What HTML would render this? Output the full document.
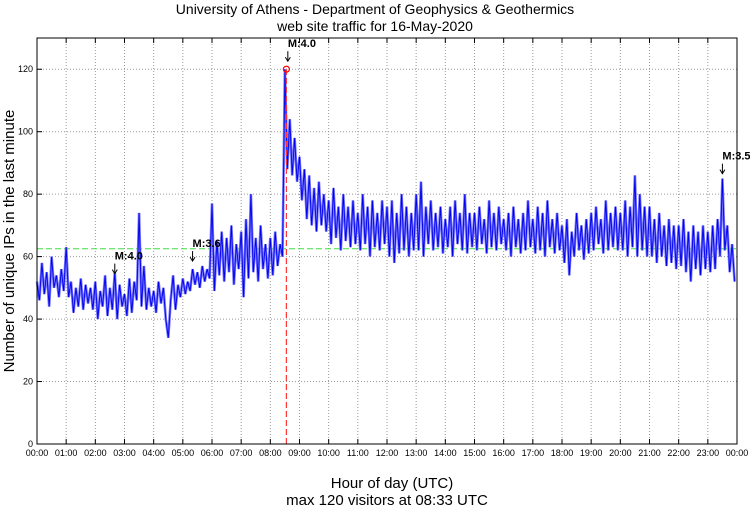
<!DOCTYPE html>
<html><head><meta charset="utf-8"><style>
body{margin:0;background:#fff;}
svg{display:block;font-family:"Liberation Sans",sans-serif;}
</style></head><body>
<svg id="chart" width="750" height="509"></svg>
<script>
const hourLabels=["00:00","01:00","02:00","03:00","04:00","05:00","06:00","07:00","08:00","09:00","10:00","11:00","12:00","13:00","14:00","15:00","16:00","17:00","18:00","19:00","20:00","21:00","22:00","23:00","00:00"];
const yTicks=[0,20,40,60,80,100,120];
// visitors sampled every 5 minutes (minutes since midnight = index*5)
const visitors=[
52,46,58,48,55,44,60,50,54,47,56,49,
63,47,52,42,50,44,53,43,51,45,50,43,
52,40,49,44,54,41,50,43,55,40,51,44,
48,41,53,42,52,46,74,44,57,43,50,44,
49,42,52,45,50,40,34,46,54,43,51,47,
53,48,52,49,56,51,55,50,57,52,56,53,
77,49,65,54,68,52,66,55,70,51,64,56,
68,47,72,53,80,55,66,52,70,56,64,53,
66,54,68,57,64,60,120,88,104,86,98,84,
92,78,88,72,86,70,82,68,84,70,80,68,
78,64,82,66,76,62,80,65,76,63,78,64,
74,62,80,64,76,60,78,63,74,62,78,64,
76,60,78,58,74,61,80,62,76,60,74,62,
80,62,84,60,76,64,78,62,74,63,76,61,
72,63,76,60,78,64,74,62,80,61,74,63,
74,62,76,64,72,61,78,63,74,62,76,64,
72,62,74,60,76,63,72,61,74,62,78,63,
72,61,76,62,74,60,78,63,72,61,74,62,
70,58,72,54,68,60,74,62,70,59,72,61,
74,62,76,64,72,61,78,62,74,63,76,62,
74,62,78,60,76,63,86,60,80,62,76,60,
76,60,72,58,74,60,70,57,72,58,70,56,
70,57,72,55,68,52,70,56,68,54,70,56,
68,55,70,56,72,60,85,62,70,55,64,52];
const meanLevel=[62.5];
const peakMinute=[513];const peakValue=[120];
const quakeLabels=["M:4.0","M:3.6","M:4.0","M:3.5"];
const quakeMinutes=[160,320,516,1410];
const quakeValues=[52,56,120,84];

const L=37,R=737,T=38,B=444,YMAX=130;
const xs=m=>L+(R-L)*m/1440;
const ys=v=>B-(B-T)*v/YMAX;
const svg=document.getElementById('chart');
const NS="http://www.w3.org/2000/svg";
function mk(tag,attrs,parent){const e=document.createElementNS(NS,tag);for(const k in attrs)e.setAttribute(k,attrs[k]);(parent||svg).appendChild(e);return e;}

hourLabels.forEach((h,i)=>{const x=xs(i*60);
 if(i>0&&i<24){const g=mk('line',{x1:x,x2:x,y1:T,y2:B,stroke:'#999','stroke-dasharray':'1,2','stroke-width':1});
 }
 const t1=mk('line',{x1:x,x2:x,y1:B,y2:B-5,stroke:'#000'});
 const t2=mk('line',{x1:x,x2:x,y1:T,y2:T+5,stroke:'#000'});
 const tx=mk('text',{x:x,y:B+12,'font-size':9,'text-anchor':'middle',fill:'#000'});tx.textContent=h;
 });
yTicks.forEach(v=>{const y=ys(v);
 if(v>0){const g=mk('line',{x1:L,x2:R,y1:y,y2:y,stroke:'#999','stroke-dasharray':'1,2'});
 }
 const t=mk('line',{x1:L,x2:L+5,y1:y,y2:y,stroke:'#000'});
 const tx=mk('text',{x:L-4,y:y+3,'font-size':9,'text-anchor':'end',fill:'#000'});tx.textContent=v;
 });

const ml=mk('line',{x1:L,x2:R,y1:ys(meanLevel[0]),y2:ys(meanLevel[0]),stroke:'#44dd44','stroke-dasharray':'6,3','stroke-width':1});


const pts=visitors.map((v,i)=>xs(i*5).toFixed(1)+','+ys(v).toFixed(1)).join(' ');
const s1=mk('polyline',{points:pts,fill:'none',stroke:'#7777ff','stroke-width':2.6});

const s2=mk('polyline',{points:pts,fill:'none',stroke:'#0000ee','stroke-width':0.9});


const px=xs(peakMinute[0]),py=ys(peakValue[0]);
const pl=mk('line',{x1:px,x2:px,y1:B,y2:py,stroke:'#ff3333','stroke-dasharray':'6,3','stroke-width':1.2});

const pc=mk('circle',{cx:px,cy:py,r:3,fill:'none',stroke:'#ff0000','stroke-width':1.2});


quakeLabels.forEach((lab,i)=>{const x=xs(quakeMinutes[i]);const y=ys(quakeValues[i])-8;
 const a=mk('line',{x1:x,x2:x,y1:y-10,y2:y,stroke:'#000','stroke-width':1});
 const h=mk('path',{d:`M${x-2.5},${y-4} L${x},${y} L${x+2.5},${y-4}`,fill:'none',stroke:'#000'});
 const t=mk('text',{x:x,y:y-14,'font-size':11,'font-weight':'bold',fill:'#000'});t.textContent=lab;
 });

const fr=mk('rect',{x:L,y:T,width:R-L,height:B-T,fill:'none',stroke:'#000','stroke-width':1});


const t1=mk('text',{x:375,y:14,'font-size':14,'text-anchor':'middle'});t1.textContent='University of Athens - Department of Geophysics & Geothermics';

const t2=mk('text',{x:375,y:31,'font-size':14,'text-anchor':'middle'});t2.textContent='web site traffic for 16-May-2020';

const xt=mk('text',{x:392,y:488,'font-size':15,'text-anchor':'middle'});xt.textContent='Hour of day (UTC)';

const xt2=mk('text',{x:387,y:505,'font-size':15,'text-anchor':'middle'});xt2.textContent='max 120 visitors at 08:33 UTC';

const yt=mk('text',{x:0,y:0,'font-size':15,'text-anchor':'middle',transform:'translate(14,241) rotate(-90)'});yt.textContent='Number of unique IPs in the last minute';

</script>
</body></html>
